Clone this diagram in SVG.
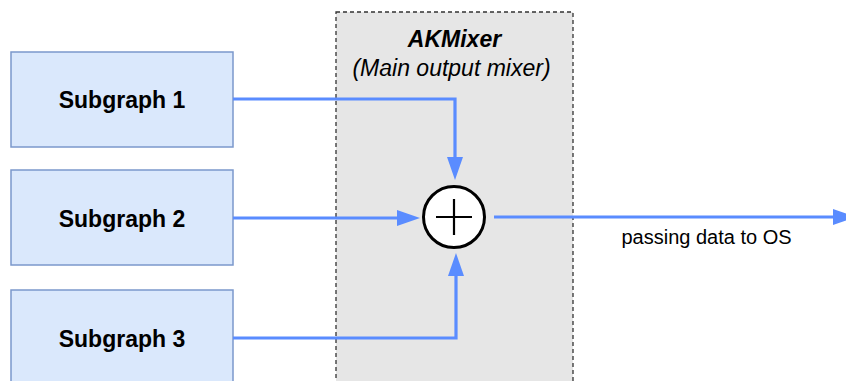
<svg xmlns="http://www.w3.org/2000/svg" width="846" height="381" viewBox="0 0 846 381">
<style>
.box{fill:#dae8fc;stroke:#7b98cc;stroke-width:1.5}
.lbl{font-family:"Liberation Sans",Arial,sans-serif;font-size:23px;font-weight:bold;fill:#000;text-anchor:middle}
.conn{fill:none;stroke:#5a8cff;stroke-width:3.2}
.mix{fill:#e6e6e6;stroke:#333;stroke-width:1.3;stroke-dasharray:4 3}
</style>
<defs>
<marker id="arr" markerUnits="userSpaceOnUse" markerWidth="24" markerHeight="16" refX="0" refY="8" orient="auto">
<path d="M0,0 L23,8 L0,16 Z" fill="#5a8cff"/>
</marker>
</defs>
<rect width="846" height="381" fill="#fff"/>
<g id="mixer">
<rect class="mix" x="336" y="12" width="237" height="380"/>
<text x="454.5" y="47" font-family="'Liberation Sans',Arial,sans-serif" font-size="23" font-weight="bold" font-style="italic" text-anchor="middle">AKMixer</text>
<text x="451.5" y="76" font-family="'Liberation Sans',Arial,sans-serif" font-size="23" font-style="italic" text-anchor="middle">(Main output mixer)</text>
</g>
<g id="subgraph1">
<rect class="box" x="11" y="52" width="222" height="95"/>
<text class="lbl" x="122" y="108">Subgraph 1</text>
</g>
<g id="subgraph2">
<rect class="box" x="11" y="170" width="222" height="95"/>
<text class="lbl" x="122" y="227">Subgraph 2</text>
</g>
<g id="subgraph3">
<rect class="box" x="11" y="290" width="222" height="100"/>
<text class="lbl" x="122" y="347">Subgraph 3</text>
</g>
<g id="sum">
<circle cx="454" cy="217" r="30.5" fill="#fff" stroke="#000" stroke-width="3"/>
<path d="M436,217 H472 M454,199 V235" stroke="#000" stroke-width="2.2" fill="none"/>
</g>
<g id="connectors">
<path class="conn" d="M233,99 H455 V157" marker-end="url(#arr)"/>
<path class="conn" d="M233,218 H397" marker-end="url(#arr)"/>
<path class="conn" d="M233,338 H456 V276" marker-end="url(#arr)"/>
<path class="conn" d="M494,217 H833" marker-end="url(#arr)"/>
<text x="706.5" y="244" font-family="'Liberation Sans',Arial,sans-serif" font-size="20" text-anchor="middle" fill="#000">passing data to OS</text>
</g>
</svg>
